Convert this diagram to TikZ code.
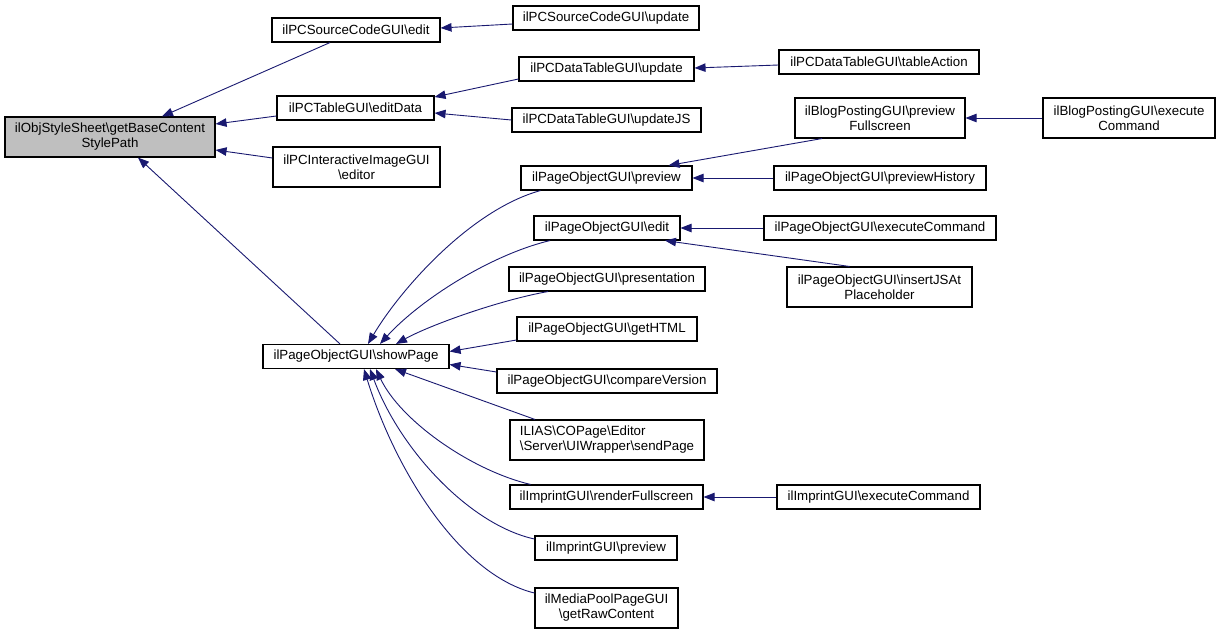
\documentclass[tikz,border=0pt]{standalone}
\usepackage{fontspec}
\setmainfont{Liberation Sans}
\usetikzlibrary{arrows.meta}
\definecolor{edgeblue}{RGB}{25,25,112}
\definecolor{rootgray}{RGB}{191,191,191}
\newcommand\bsl{\textbackslash}
\begin{document}
\begin{tikzpicture}[x=1pt,y=-1pt,
  fn/.style={draw=black, line width=1.1pt, inner sep=0pt, minimum height=24pt, align=center,
    font=\fontsize{13.3}{15}\selectfont, fill=white},
  fntwo/.style={fn, minimum height=40pt},
  edge/.style={draw=edgeblue, line width=0.9pt, {Triangle[length=11pt,width=8.5pt]}-}
]
\useasboundingbox (0,0) rectangle (1220,634);
% column 1
\node[fntwo, fill=rootgray, minimum width=210pt] (root) at (110,137) {ilObjStyleSheet\bsl getBaseContent\\StylePath};
% column 2
\node[fn, minimum width=168pt] (sedit) at (356,30) {ilPCSourceCodeGUI\bsl edit};
\node[fn, minimum width=157pt] (editdata) at (355.5,108) {ilPCTableGUI\bsl editData};
\node[fntwo, minimum width=167pt] (iimg) at (356.5,167) {ilPCInteractiveImageGUI\\\bsl editor};
\node[fn, minimum width=186pt] (showpage) at (356,356.5) {ilPageObjectGUI\bsl showPage};
% column 3
\node[fn, minimum width=186pt] (supdate) at (606,18) {ilPCSourceCodeGUI\bsl update};
\node[fn, minimum width=175pt] (dtupdate) at (606.5,69) {ilPCDataTableGUI\bsl update};
\node[fn, minimum width=189pt] (updatejs) at (606.5,120) {ilPCDataTableGUI\bsl updateJS};
\node[fn, minimum width=171pt] (pprev) at (606.5,178) {ilPageObjectGUI\bsl preview};
\node[fn, minimum width=146pt] (pedit) at (607,228) {ilPageObjectGUI\bsl edit};
\node[fn, minimum width=196pt] (ppres) at (607,279) {ilPageObjectGUI\bsl presentation};
\node[fn, minimum width=180pt] (phtml) at (607,329) {ilPageObjectGUI\bsl getHTML};
\node[fn, minimum width=220pt] (pcomp) at (607,381) {ilPageObjectGUI\bsl compareVersion};
\node[fntwo, minimum width=194pt, align=left] (sendpage) at (607,440) {ILIAS\bsl COPage\bsl Editor\\\bsl Server\bsl UIWrapper\bsl sendPage};
\node[fn, minimum width=193pt] (irender) at (606.5,497) {ilImprintGUI\bsl renderFullscreen};
\node[fn, minimum width=142pt] (iprev) at (606,548) {ilImprintGUI\bsl preview};
\node[fntwo, minimum width=143pt] (mpool) at (606.5,608) {ilMediaPoolPageGUI\\\bsl getRawContent};
% column 4
\node[fn, minimum width=200pt] (tableaction) at (879,62) {ilPCDataTableGUI\bsl tableAction};
\node[fntwo, minimum width=170pt] (blogprev) at (880,118) {ilBlogPostingGUI\bsl preview\\Fullscreen};
\node[fn, minimum width=212pt] (phist) at (880,178) {ilPageObjectGUI\bsl previewHistory};
\node[fn, minimum width=232pt] (pexec) at (880,228) {ilPageObjectGUI\bsl executeCommand};
\node[fntwo, minimum width=185pt] (pinsert) at (879.5,287) {ilPageObjectGUI\bsl insertJSAt\\Placeholder};
\node[fn, minimum width=203pt] (iexec) at (878.5,497) {ilImprintGUI\bsl executeCommand};
% column 5
\node[fntwo, minimum width=172pt] (blogexec) at (1129,118) {ilBlogPostingGUI\bsl execute\\Command};
% edges
\draw[edge] ([xshift=52pt]root.north) -- ([xshift=-26pt]sedit.south);
\draw[edge] ([yshift=13pt]root.east) -- ([yshift=-8pt]editdata.west);
\draw[edge] ([yshift=-13pt]root.east) -- ([yshift=9pt]iimg.west);
\draw[edge] ([xshift=28pt]root.south) -- ([xshift=-16pt]showpage.north);
\draw[edge] ([yshift=2pt]sedit.east) -- ([yshift=-6pt]supdate.west);
\draw[edge] ([yshift=11pt]editdata.east) -- ([yshift=-10pt]dtupdate.west);
\draw[edge] ([yshift=-5pt]editdata.east) -- (updatejs.west);
\draw[edge] ([yshift=1pt]dtupdate.east) -- ([yshift=-3pt]tableaction.west);
\draw[edge] (blogprev.east) -- (blogexec.west);
\draw[edge] ([xshift=62pt]pprev.north) -- ([xshift=-58pt]blogprev.south);
\draw[edge] (pprev.east) -- (phist.west);
\draw[edge] (pedit.east) -- (pexec.west);
\draw[edge] ([xshift=58pt]pedit.south) -- ([xshift=-30pt]pinsert.north);
\draw[edge] (irender.east) -- (iexec.west);
\draw[edge] ([xshift=12pt]showpage.north) .. controls (400,290) and (470,210) .. ([xshift=-66pt]pprev.south);
\draw[edge] ([xshift=24pt]showpage.north) .. controls (420,300) and (490,255) .. ([xshift=-57pt]pedit.south);
\draw[edge] ([xshift=40pt]showpage.north) .. controls (430,325) and (500,300) .. ([xshift=-59pt]ppres.south);
\draw[edge] ([yshift=5pt]showpage.east) -- ([yshift=-11pt]phtml.west);
\draw[edge] ([yshift=-8pt]showpage.east) -- ([yshift=9pt]pcomp.west);
\draw[edge] ([xshift=39pt]showpage.south) -- ([xshift=-72pt]sendpage.north);
\draw[edge] ([xshift=20pt]showpage.south) .. controls (400,420) and (470,470) .. ([xshift=-76pt]irender.north);
\draw[edge] ([xshift=14pt]showpage.south) .. controls (400,450) and (470,525) .. ([yshift=9pt]iprev.west);
\draw[edge] ([xshift=8pt]showpage.south) .. controls (395,470) and (460,575) .. ([yshift=15pt]mpool.west);
\end{tikzpicture}
\end{document}
